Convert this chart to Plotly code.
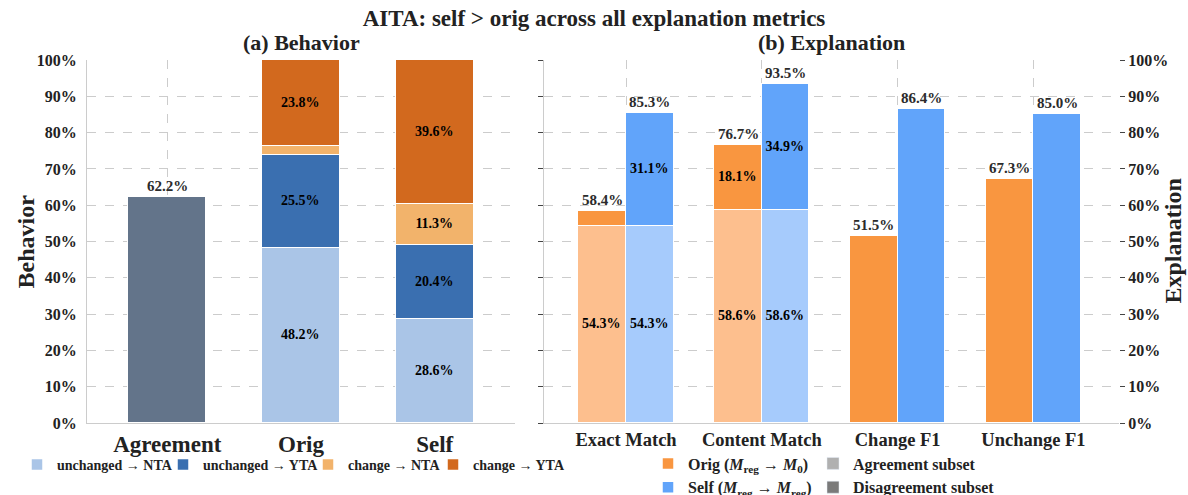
import plotly.graph_objects as go

FONT = "Liberation Serif, Times New Roman, serif"

# ---------------- data ----------------
# (a) Behavior
beh_categories = ["Agreement", "Orig", "Self"]
agreement_value = [62.2]
unchanged_nta = [None, 48.2, 28.6]
unchanged_yta = [None, 25.5, 20.4]
change_nta = [None, 2.5, 11.3]
change_yta = [None, 23.8, 39.6]

# (b) Explanation
exp_categories = ["Exact Match", "Content Match", "Change F1", "Unchange F1"]
orig_agree = [54.3, 58.6, None, None]
orig_disagree = [4.1, 18.1, 51.5, 67.3]
orig_total = [58.4, 76.7, 51.5, 67.3]
self_agree = [54.3, 58.6, None, None]
self_disagree = [31.1, 34.9, 86.4, 85.0]
self_total = [85.3, 93.5, 86.4, 85.0]

y_ticks = list(range(0, 101, 10))

# ---------------- styles ----------------
W, H = 1188, 495
ML, MR, MT, MB = 87, 69, 60, 72
PW = W - ML - MR

C_UNCH_NTA = "#aac5e7"
C_UNCH_YTA = "#3a6fb0"
C_CHG_NTA = "#f2b36b"
C_CHG_YTA = "#d2691e"
C_AGREE = "#63748a"
C_ORIG = "#f99640"
C_ORIG_L = "#fdbf8e"
C_SELF = "#61a4fa"
C_SELF_L = "#a6cbfc"
LINE = dict(color="white", width=1.5)

def F(size, color="#222"):
    return dict(family=FONT, size=size, color=color, weight="bold")

def px2paper(px):
    return (px - ML) / PW

def pct(v):
    return "" if v is None else f"{v:.1f}%"

def pct_big(v, minv):
    return "" if (v is None or v < minv) else f"{v:.1f}%"

fig = go.Figure()

bx = list(range(len(beh_categories)))
BW = 0.58
inside_font = F(14, "black")

fig.add_trace(go.Bar(x=[bx[0]], y=agreement_value, width=BW, marker=dict(color=C_AGREE, line=LINE),
                     showlegend=False, xaxis="x", yaxis="y", hoverinfo="skip"))
left_legends = ["legend", "legend4", "legend5", "legend6"]
for (vals, col, name), lg in zip([(unchanged_nta, C_UNCH_NTA, "unchanged → NTA"),
                                  (unchanged_yta, C_UNCH_YTA, "unchanged → YTA"),
                                  (change_nta, C_CHG_NTA, "change → NTA"),
                                  (change_yta, C_CHG_YTA, "change → YTA")], left_legends):
    fig.add_trace(go.Bar(x=bx, y=vals, width=BW, name=name,
                         marker=dict(color=col, line=LINE),
                         text=[pct_big(v, 5) for v in vals], textposition="inside",
                         insidetextanchor="middle", textangle=0,
                         textfont=inside_font, legend=lg,
                         xaxis="x", yaxis="y", hoverinfo="skip"))

ex = list(range(len(exp_categories)))
OFF = 0.175
EW = 0.35
xo = [i - OFF for i in ex]
xs = [i + OFF for i in ex]

fig.add_trace(go.Bar(x=xo, y=orig_agree, width=EW, marker=dict(color=C_ORIG_L, line=LINE),
                     text=[pct(v) for v in orig_agree], textposition="inside", insidetextanchor="middle",
                     textangle=0, textfont=inside_font, showlegend=False,
                     xaxis="x2", yaxis="y2", hoverinfo="skip"))
fig.add_trace(go.Bar(x=xo, y=orig_disagree, width=EW, marker=dict(color=C_ORIG, line=LINE),
                     name="Orig (<i>M</i><sub>reg</sub> → <i>M</i><sub>0</sub>)",
                     text=[pct_big(v, 10) if i < 2 else "" for i, v in enumerate(orig_disagree)],
                     textposition="inside", insidetextanchor="middle", textangle=0,
                     textfont=inside_font, legend="legend2",
                     xaxis="x2", yaxis="y2", hoverinfo="skip"))
fig.add_trace(go.Bar(x=xs, y=self_agree, width=EW, marker=dict(color=C_SELF_L, line=LINE),
                     text=[pct(v) for v in self_agree], textposition="inside", insidetextanchor="middle",
                     textangle=0, textfont=inside_font, showlegend=False,
                     xaxis="x2", yaxis="y2", hoverinfo="skip"))
fig.add_trace(go.Bar(x=xs, y=self_disagree, width=EW, marker=dict(color=C_SELF, line=LINE),
                     name="Self (<i>M</i><sub>reg</sub> → <i>M</i><sub>reg</sub>)",
                     text=[pct_big(v, 10) if i < 2 else "" for i, v in enumerate(self_disagree)],
                     textposition="inside", insidetextanchor="middle", textangle=0,
                     textfont=inside_font, legend="legend2",
                     xaxis="x2", yaxis="y2", hoverinfo="skip"))
for name, col in [("Agreement subset", "#b0b0b0"), ("Disagreement subset", "#7a7a7a")]:
    fig.add_trace(go.Bar(x=[None], y=[None], name=name, marker=dict(color=col),
                         legend="legend3", xaxis="x2", yaxis="y2"))
fig.add_trace(go.Scatter(x=[None], y=[None], xaxis="x2", yaxis="y3", showlegend=False))

annots = []
TOPF = F(15, "#2b2b2b")
annots.append(dict(x=bx[0], y=agreement_value[0], xref="x", yref="y", text=pct(agreement_value[0]),
                   showarrow=False, yanchor="middle", yshift=11, font=TOPF))
for i in ex:
    annots.append(dict(x=xo[i], y=orig_total[i], xref="x2", yref="y2", text=pct(orig_total[i]),
                       showarrow=False, yanchor="middle", yshift=11, font=TOPF))
    annots.append(dict(x=xs[i], y=self_total[i], xref="x2", yref="y2", text=pct(self_total[i]),
                       showarrow=False, yanchor="middle", yshift=11, font=TOPF))

SUBF = F(22)
annots.append(dict(x=px2paper(301), y=1.048, xref="paper", yref="paper", text="(a) Behavior",
                   showarrow=False, yanchor="middle", xanchor="center", font=SUBF))
annots.append(dict(x=px2paper(831), y=1.048, xref="paper", yref="paper", text="(b) Explanation",
                   showarrow=False, yanchor="middle", xanchor="center", font=SUBF))
annots.append(dict(x=px2paper(25), y=0.5, xref="paper", yref="paper", text="Behavior",
                   textangle=-90, showarrow=False, xanchor="center", yanchor="middle", font=F(24)))
annots.append(dict(x=px2paper(1172), y=0.5, xref="paper", yref="paper", text="Explanation",
                   textangle=-90, showarrow=False, xanchor="center", yanchor="middle", font=F(24)))

GRID = "#cccccc"
TICKF = F(16)
YTT = [f"{t}%" for t in y_ticks]

def leg(xpx, ypx, size):
    return dict(orientation="v", x=px2paper(xpx), y=1 - ypx / H, yref="container",
                xanchor="left", yanchor="middle", traceorder="normal",
                font=F(size), bgcolor="rgba(0,0,0,0)", tracegroupgap=0)

layout_legends = {}
for lg, xt in zip(left_legends, [57, 203, 348, 473]):
    layout_legends[lg] = leg(xt - 40, 465, 14)
layout_legends["legend2"] = leg(688 - 40, 475.5, 16)
layout_legends["legend3"] = leg(853 - 40, 475.5, 16)

fig.update_layout(
    width=W, height=H,
    margin=dict(l=ML, r=MR, t=MT, b=MB, autoexpand=False),
    paper_bgcolor="white", plot_bgcolor="white",
    barmode="stack", bargap=0,
    font=dict(family=FONT, color="#222"),
    title=dict(text="AITA: self > orig across all explanation metrics",
               x=0.5, xanchor="center", y=1 - 18 / H, yanchor="middle", font=F(23)),
    annotations=annots,
    xaxis=dict(domain=[0, px2paper(515)], range=[-0.6, 2.6], tickvals=bx, ticktext=beh_categories,
               tickfont=F(23), automargin=False,
               showgrid=True, gridcolor=GRID, griddash="dash", gridwidth=1,
               showline=True, linecolor=GRID, linewidth=1, ticks="", zeroline=False, anchor="y"),
    yaxis=dict(range=[0, 100], tickvals=y_ticks, ticktext=YTT, automargin=False,
               tickfont=TICKF, showgrid=True, gridcolor=GRID, griddash="dash", gridwidth=1,
               showline=True, linecolor=GRID, linewidth=1, ticks="", zeroline=False,
               anchor="x", ticklabelstandoff=6),
    xaxis2=dict(domain=[px2paper(544), 1], range=[-0.604, 3.63], tickvals=ex, ticktext=exp_categories,
                tickfont=F(18.5), automargin=False,
                showgrid=True, gridcolor=GRID, griddash="dash", gridwidth=1,
                showline=True, linecolor=GRID, linewidth=1, ticks="", zeroline=False, anchor="y2"),
    yaxis2=dict(range=[0, 100], tickvals=y_ticks, ticktext=YTT, automargin=False,
                tickfont=TICKF, side="right", anchor="x2",
                showgrid=True, gridcolor=GRID, griddash="dash", gridwidth=1,
                showline=False, ticks="outside", ticklen=5, tickcolor="#444", zeroline=False),
    yaxis3=dict(range=[0, 100], tickvals=y_ticks, showticklabels=False, overlaying="y2",
                side="left", anchor="x2", showgrid=False, showline=True, linecolor=GRID,
                automargin=False, ticks="outside", ticklen=5, tickcolor="#444", zeroline=False),
    **layout_legends,
)

fig.write_html("out.html", config={"displayModeBar": False},
               post_script="document.body.style.margin='0px';")
